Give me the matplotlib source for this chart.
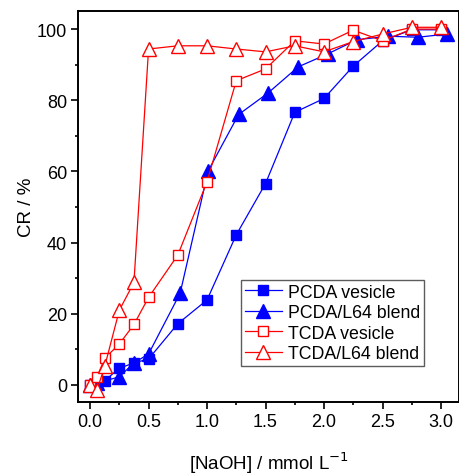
import matplotlib
matplotlib.use("Agg")
import matplotlib.pyplot as plt
from matplotlib.ticker import MultipleLocator

plt.rcParams['font.family'] = ['Liberation Sans', 'DejaVu Sans']

# PCDA vesicle
pv_x = [0.0, 0.125, 0.25, 0.375, 0.5, 0.75, 1.0, 1.25, 1.5, 1.75, 2.0, 2.25, 2.5, 2.75, 3.0]
pv_y = [0.0, 1.2, 4.7, 6.2, 7.3, 17.2, 23.9, 42.2, 56.6, 76.6, 80.5, 89.6, 96.7, 99.8, 99.8]
# PCDA/L64 blend
pb_x = [0.0, 0.06, 0.25, 0.375, 0.5, 0.77, 1.01, 1.27, 1.52, 1.78, 2.03, 2.28, 2.55, 2.8, 3.05]
pb_y = [0.0, 0.5, 2.3, 6.2, 8.7, 25.8, 60.2, 76.0, 82.0, 89.4, 93.0, 97.0, 98.0, 97.7, 98.6]
# TCDA vesicle
tv_x = [0.0, 0.06, 0.125, 0.25, 0.375, 0.5, 0.75, 1.0, 1.25, 1.5, 1.75, 2.0, 2.25, 2.5, 2.75, 3.0]
tv_y = [0.0, 2.3, 7.5, 11.5, 17.0, 24.6, 36.5, 57.1, 85.5, 88.8, 96.7, 95.8, 99.7, 96.7, 100.0, 100.0]
# TCDA/L64 blend
tb_x = [0.0, 0.06, 0.125, 0.25, 0.375, 0.5, 0.75, 1.0, 1.25, 1.5, 1.75, 2.0, 2.25, 2.5, 2.75, 3.0]
tb_y = [0.0, -1.3, 5.2, 21.0, 28.8, 94.4, 95.3, 95.3, 94.4, 93.6, 95.3, 93.6, 96.5, 98.6, 100.5, 100.5]

fig = plt.figure(figsize=(4.59, 4.77), dpi=100)
ax = fig.add_axes([0.170, 0.155, 0.830, 0.820])

blue = '#0000ff'
red = '#ff0000'
lw = 0.9
ax.plot(pv_x, pv_y, color=blue, lw=lw, marker='s', ms=7.5, mfc=blue, mec=blue, label='PCDA vesicle')
ax.plot(pb_x, pb_y, color=blue, lw=lw, marker='^', ms=9.5, mfc=blue, mec=blue, label='PCDA/L64 blend')
ax.plot(tv_x, tv_y, color=red, lw=lw, marker='s', ms=7.5, mfc='white', mec=red, mew=1.0, label='TCDA vesicle')
ax.plot(tb_x, tb_y, color=red, lw=lw, marker='^', ms=9.5, mfc='white', mec=red, mew=1.0, label='TCDA/L64 blend')

ax.set_xlim(-0.103, 3.154)
ax.set_ylim(-4.8, 105.1)
ax.xaxis.set_major_locator(MultipleLocator(0.5))
ax.xaxis.set_minor_locator(MultipleLocator(0.25))
ax.yaxis.set_major_locator(MultipleLocator(20))
ax.yaxis.set_minor_locator(MultipleLocator(10))
ax.xaxis.set_major_formatter(plt.FuncFormatter(lambda v, p: f"{v:.1f}"))
ax.tick_params(which='major', direction='out', length=5, width=1.2, labelsize=13, pad=3)
ax.tick_params(which='minor', direction='out', length=2.5, width=1.2)
ax.tick_params(top=False, right=False, which='both')
for s in ax.spines.values():
    s.set_linewidth(1.4)

ax.set_xlabel('[NaOH] / mmol L$^{-1}$', fontsize=13.5, labelpad=14)
ax.set_ylabel('CR / %', fontsize=13.5, labelpad=1)

leg = ax.legend(loc='upper left', bbox_to_anchor=(0.428, 0.312), fontsize=12.8,
                frameon=True, fancybox=False, edgecolor='#333333', handlelength=2.1,
                handletextpad=0.33, borderpad=0.2, labelspacing=0.2, borderaxespad=0)
leg.get_frame().set_linewidth(1.0)

fig.savefig('out.png', dpi=100)
